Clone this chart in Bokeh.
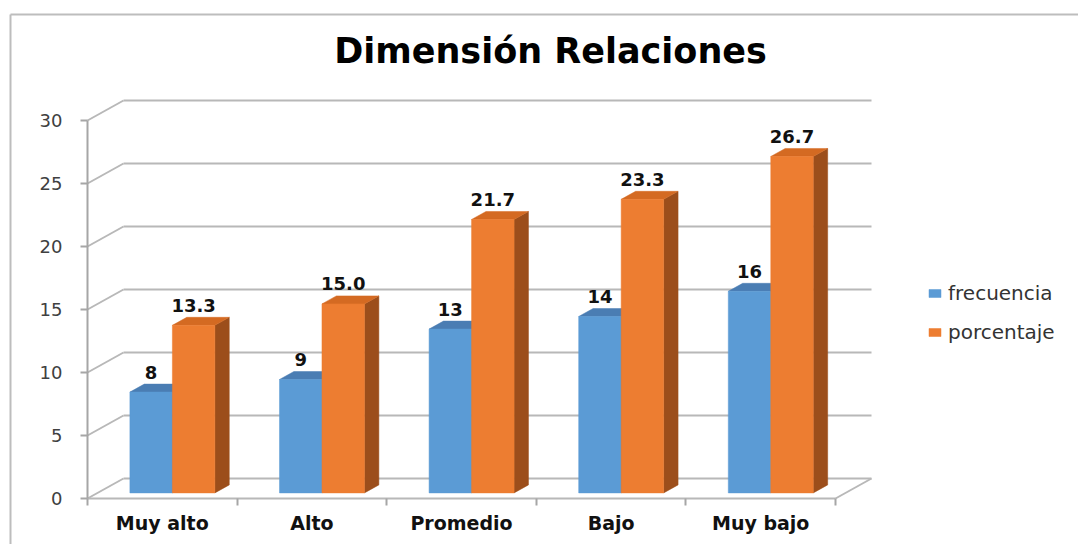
from bokeh.plotting import figure
from bokeh.models import Range1d, LinearAxis, FixedTicker, Legend, LegendItem, Label, ColumnDataSource
from bokeh.embed import file_html
from bokeh.resources import INLINE
from bokeh.core.properties import value

# ---------------- data ----------------
title_text = "Dimensión Relaciones"
categories = ["Muy alto", "Alto", "Promedio", "Bajo", "Muy bajo"]
frecuencia = [8, 9, 13, 14, 16]
porcentaje = [13.3, 15.0, 21.7, 23.3, 26.7]
series_names = ["frecuencia", "porcentaje"]
y_ticks = [0, 5, 10, 15, 20, 25, 30]

# ---------------- layout constants ----------------
W, H = 1078, 544
PX_X = 149.6     # pixels per category
PX_Y = 12.6      # pixels per value unit
X0_PX = 87       # canvas x of category 0 (front axis)
Y0_PX = 46       # pixels from bottom of value 0 (front floor edge)

DX = 36 / PX_X   # depth offset of back wall (data units)
DY = 20 / PX_Y
T0, T1 = 0.28, 0.68   # bar depth (fraction of full depth)
BAR_W = 0.284

def px_x(px):
    return (px - X0_PX) / PX_X

def px_y(px_from_top):
    return (H - px_from_top - Y0_PX) / PX_Y

p = figure(width=W, height=H,
           x_range=Range1d(px_x(0), px_x(W)),
           y_range=Range1d(px_y(H), px_y(0)),
           output_backend="svg", toolbar_location=None,
           min_border=0, x_axis_type=None, y_axis_type=None)
p.outline_line_color = None
p.background_fill_color = "white"
p.border_fill_color = "white"

# chart area border (top and left visible)
p.segment(x0=[px_x(10), px_x(10)], y0=[px_y(14), px_y(14)],
          x1=[px_x(10), px_x(W + 20)], y1=[px_y(H + 20), px_y(14)],
          line_color="#bdbdbd", line_width=2)

# back wall gridlines + left wall diagonals
grid_col = "#b8b8b8"
nc = len(categories)
p.segment(x0=[DX] * len(y_ticks), y0=[t + DY for t in y_ticks],
          x1=[nc + DX] * len(y_ticks), y1=[t + DY for t in y_ticks],
          line_color=grid_col, line_width=2)
p.segment(x0=[0] * len(y_ticks), y0=y_ticks,
          x1=[DX] * len(y_ticks), y1=[t + DY for t in y_ticks],
          line_color=grid_col, line_width=2)
# floor front and right edges
p.segment(x0=[0, nc], y0=[0, 0], x1=[nc, nc + DX], y1=[0, DY],
          line_color=grid_col, line_width=2)
# front value axis line
p.segment(x0=[0], y0=[0], x1=[0], y1=[max(y_ticks)], line_color="#a6a6a6", line_width=2)

# ---------------- bars ----------------
colors = {
    "frecuencia": ("#5b9bd5", "#4a7db3", "#3c6894"),
    "porcentaje": ("#ed7d31", "#d46a22", "#9c4e1b"),
}
front_renderers = {}
for si, (name, vals) in enumerate(zip(series_names, [frecuencia, porcentaje])):
    front, top, side = colors[name]
    lefts = [i + 0.5 - BAR_W + si * BAR_W for i in range(nc)]
    rights = [l + BAR_W for l in lefts]
    side_xs = [[r + T0 * DX, r + T1 * DX, r + T1 * DX, r + T0 * DX] for r in rights]
    side_ys = [[T0 * DY, T1 * DY, v + T1 * DY, v + T0 * DY] for v in vals]
    p.patches(xs=side_xs, ys=side_ys, fill_color=side, line_color=side, line_width=0.5)
    top_xs = [[l + T0 * DX, r + T0 * DX, r + T1 * DX, l + T1 * DX] for l, r in zip(lefts, rights)]
    top_ys = [[v + T0 * DY, v + T0 * DY, v + T1 * DY, v + T1 * DY] for v in vals]
    p.patches(xs=top_xs, ys=top_ys, fill_color=top, line_color=top, line_width=0.5)
    src = ColumnDataSource(dict(
        left=[l + T0 * DX for l in lefts],
        right=[r + T0 * DX for r in rights],
        bottom=[T0 * DY] * nc,
        top=[v + T0 * DY for v in vals],
    ))
    front_renderers[name] = p.quad(left="left", right="right", bottom="bottom", top="top",
                                   source=src, fill_color=front, line_color=front, line_width=0.5)
    labels = [f"{v:g}" if name == "frecuencia" else f"{v:.1f}" for v in vals]
    p.text(x=[(l + r) / 2 + T0 * DX for l, r in zip(lefts, rights)],
           y=[v + T1 * DY for v in vals], text=labels,
           text_font=value("DejaVu Sans"), text_font_style="bold", text_font_size="18px",
           text_color="#111111", text_align="center", text_baseline="alphabetic",
           y_offset=-12)

# ---------------- axes ----------------
yaxis = LinearAxis(fixed_location=0, ticker=FixedTicker(ticks=y_ticks))
yaxis.axis_line_color = None
yaxis.major_tick_line_color = "#a6a6a6"
yaxis.major_tick_line_width = 2
yaxis.major_tick_out = 7
yaxis.major_tick_in = 0
yaxis.minor_tick_line_color = None
yaxis.major_label_standoff = 18
yaxis.major_label_text_font = "DejaVu Sans"
yaxis.major_label_text_font_size = "18px"
yaxis.major_label_text_color = "#404040"
p.add_layout(yaxis, "left")

xaxis = LinearAxis(fixed_location=0,
                   ticker=FixedTicker(ticks=[i + 0.5 for i in range(nc)],
                                      minor_ticks=list(range(nc + 1))))
xaxis.axis_line_color = None
xaxis.major_tick_line_color = None
xaxis.minor_tick_line_color = "#a6a6a6"
xaxis.minor_tick_line_width = 2
xaxis.minor_tick_out = 7
xaxis.minor_tick_in = 0
xaxis.major_tick_out = 0
xaxis.major_tick_in = 0
xaxis.major_label_standoff = 6
xaxis.major_label_overrides = {i + 0.5: c for i, c in enumerate(categories)}
xaxis.major_label_text_font = "DejaVu Sans"
xaxis.major_label_text_font_style = "bold"
xaxis.major_label_text_font_size = "19px"
xaxis.major_label_text_color = "#111111"
p.add_layout(xaxis, "below")

# ---------------- title ----------------
p.add_layout(Label(x=550, y=H - 50, x_units="screen", y_units="screen", text=title_text,
                   text_align="center", text_baseline="middle", text_font="DejaVu Sans",
                   text_font_style="bold", text_font_size="35px", text_color="#000000"))

# ---------------- legend ----------------
legend = Legend(items=[LegendItem(label=n, renderers=[front_renderers[n]]) for n in series_names],
                location=(927, 200), orientation="vertical",
                glyph_width=15, glyph_height=10, label_standoff=6, spacing=15,
                padding=0, margin=0, border_line_color=None, background_fill_alpha=0,
                label_text_font="DejaVu Sans", label_text_font_size="20px",
                label_text_color="#333333")
p.add_layout(legend)

open("out.html", "w").write(file_html(p, INLINE))
